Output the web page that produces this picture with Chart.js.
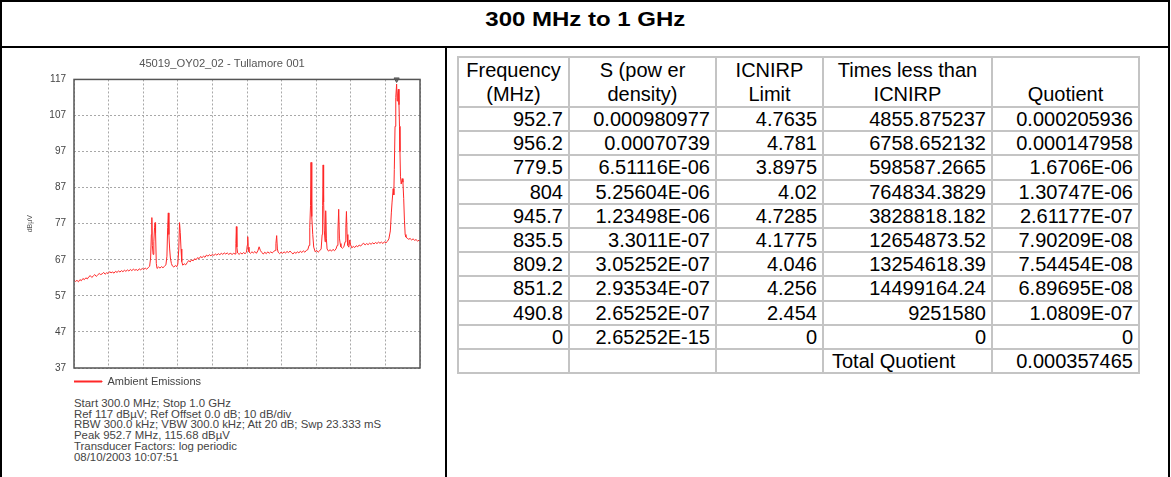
<!DOCTYPE html>
<html>
<head>
<meta charset="utf-8">
<script src="https://cdn.jsdelivr.net/npm/chart.js@4.4.1/dist/chart.umd.min.js"></script>
<style>
  body { margin: 0; width: 1171px; height: 477px; overflow: hidden; background: #fff; font-family: 'Liberation Sans', Arial, sans-serif; }
  .frame { position: absolute; left: 0; top: 0; width: 1166px; height: 490px; border: 2px solid #000; }
  .hline { position: absolute; left: 0; top: 46px; width: 1170px; height: 2px; background: #000; }
  .vline { position: absolute; left: 445px; top: 46px; width: 2px; height: 440px; background: #000; }
  .title { position: absolute; left: 0; top: 2px; width: 1170px; height: 34px; line-height: 34px; text-align: center; font-weight: bold; font-size: 20px; }
  .title span { display: inline-block; transform: scaleX(1.2); }
  #chartBox { position: absolute; left: 2px; top: 50px; width: 444px; height: 347px; }
  .info { position: absolute; left: 74px; top: 398px; font-size: 11.4px; line-height: 10.7px; color: #444; white-space: nowrap; }
  table { position: absolute; left: 457px; top: 56px; border-collapse: collapse; font-size: 20px; table-layout: fixed; }
  td { border: 2px solid #c4c4c4; height: 22.2px; line-height: 22px; padding: 0 5px 0 4px; text-align: right; white-space: nowrap; overflow: hidden; }
  td.h { text-align: center; line-height: 24px; vertical-align: bottom; padding: 0; }
  td.l { text-align: left; padding-left: 8px; }
</style>
</head>
<body>
<div class="frame"></div>
<div class="hline"></div>
<div class="vline"></div>
<div class="title"><span>300 MHz to 1 GHz</span></div>

<div id="chartBox"><canvas id="spectrum"></canvas></div>

<div class="info">
Start 300.0 MHz; Stop 1.0 GHz<br>
Ref 117 dBµV; Ref Offset 0.0 dB; 10 dB/div<br>
RBW 300.0 kHz; VBW 300.0 kHz; Att 20 dB; Swp 23.333 mS<br>
Peak 952.7 MHz, 115.68 dBµV<br>
Transducer Factors: log periodic<br>
08/10/2003 10:07:51
</div>

<table id="results">
  <colgroup>
    <col style="width:111px"><col style="width:147px"><col style="width:107px"><col style="width:169px"><col style="width:147px">
  </colgroup>
</table>

<script>
// spectrum trace (MHz / dBµV)
var freqMHz = [
  300, 303, 306, 309, 312, 315, 318, 321, 324, 327, 330, 333, 336, 339, 342, 345, 348, 351, 354, 357,
  360, 363, 366, 369, 372, 375, 378, 381, 384, 387, 390, 393, 396, 399, 402, 405, 408, 411, 414, 417,
  420, 423, 426, 429, 432, 435, 438, 441, 444, 447, 450, 453, 455, 456.5, 457.5, 458.5, 460, 461.5, 463, 464,
  465, 466.5, 468, 471, 474, 477, 480, 483, 486, 488, 489.5, 490.8, 492, 493.5, 495, 497, 499, 502, 505, 508,
  510, 512, 513.5, 515, 516.5, 518, 520, 523, 526, 529, 532, 535, 538, 541, 544, 547, 550, 553, 556, 559,
  562, 565, 568, 571, 574, 577, 580, 583, 586, 589, 592, 595, 598, 601, 604, 607, 610, 613, 616, 620,
  623, 626, 627.5, 628.5, 629.5, 631, 634, 637, 640, 643, 646, 649, 650.5, 651.5, 652.5, 654, 657, 660, 663, 666,
  669, 672, 674.5, 677, 680, 683, 686, 689, 692, 695, 698, 701, 704, 707, 708.5, 710, 711.5, 713, 716, 719,
  722, 725, 728, 731, 734, 737, 740, 743, 746, 749, 752, 755, 758, 761, 764, 767, 770, 773, 775.5, 777,
  778.5, 779.5, 780.5, 781.5, 783, 785, 788, 791, 794, 797, 800, 802, 803, 804, 805, 806.5, 808, 809.2, 810.5, 812,
  815, 818, 821, 824, 827, 830, 832.5, 834, 835.5, 837, 838.5, 840, 843, 846, 848.5, 850, 851.2, 852.5, 854, 856,
  858, 859.5, 862, 865, 868, 871, 874, 877, 880, 883, 886, 889, 892, 895, 898, 901, 904, 907, 910, 913,
  916, 919, 922, 925, 928, 931, 934, 937, 940, 942, 943.5, 945.7, 947, 948, 949.5, 951, 952.7, 953.8, 955, 956.2,
  957.5, 958.5, 959.5, 960.5, 962, 964, 965.5, 967, 968.5, 970, 971.5, 974, 977, 980, 983, 986, 989, 992, 995, 998,
  1000
];
var levelDbuv = [
  61.4, 61.0, 61.3, 60.9, 61.5, 61.2, 61.8, 61.5, 62.0, 61.7, 62.3, 62.6, 62.1, 62.5, 62.9, 62.4, 62.8, 63.2, 62.9, 63.1,
  63.5, 63.0, 63.4, 63.2, 63.7, 63.4, 63.6, 63.3, 63.8, 63.5, 63.9, 63.6, 64.0, 63.7, 64.1, 63.8, 64.2, 63.9, 64.3, 64.0,
  64.4, 64.1, 64.3, 64.0, 64.5, 64.2, 64.6, 64.3, 64.7, 64.4, 64.8, 65.2, 67.5, 74.0, 78.7, 71.0, 68.5, 72.0, 76.0, 77.3,
  74.5, 66.0, 64.6, 65.0, 64.7, 65.1, 64.8, 65.2, 65.6, 68.0, 76.0, 80.0, 74.0, 70.0, 67.5, 66.0, 65.3, 65.0, 65.4, 65.1,
  65.8, 70.0, 77.3, 74.5, 70.0, 66.5, 65.5, 65.9, 65.6, 66.2, 66.8, 66.4, 67.0, 66.7, 67.3, 67.0, 67.6, 67.3, 67.9, 67.6,
  68.0, 67.7, 68.3, 68.0, 68.4, 68.1, 68.5, 68.2, 68.6, 68.3, 68.7, 68.4, 68.8, 68.5, 68.9, 68.6, 68.9, 68.5, 68.8, 68.5,
  68.8, 68.6, 71.5, 76.2, 70.5, 68.9, 68.5, 68.9, 68.6, 69.0, 68.7, 69.1, 71.0, 73.4, 70.5, 69.2, 68.8, 69.2, 68.9, 69.3,
  68.8, 69.5, 70.6, 69.6, 69.0, 68.6, 69.1, 68.7, 69.2, 68.8, 69.2, 68.9, 69.3, 69.6, 71.5, 73.7, 70.0, 69.1, 68.7, 69.1,
  68.8, 69.2, 68.9, 69.3, 69.0, 69.4, 69.0, 68.6, 69.1, 68.8, 69.2, 68.9, 69.4, 69.0, 69.5, 69.1, 69.6, 69.8, 71.0, 76.0,
  82.0, 94.0, 84.0, 79.0, 74.0, 70.5, 69.2, 69.6, 69.1, 69.5, 70.0, 74.0, 82.0, 93.3, 83.0, 75.0, 72.0, 80.6, 73.0, 70.0,
  69.4, 69.8, 69.4, 69.9, 69.5, 70.0, 71.0, 75.0, 81.0, 73.0, 71.5, 70.6, 70.2, 70.6, 72.0, 76.0, 80.4, 74.0, 71.0, 70.5,
  72.5, 71.2, 70.3, 70.7, 70.4, 70.9, 70.6, 71.1, 70.8, 71.3, 71.6, 71.1, 71.5, 71.2, 71.6, 71.3, 71.7, 71.4, 71.8, 71.5,
  71.9, 71.6, 71.9, 71.5, 72.0, 71.7, 72.1, 72.8, 75.0, 80.0, 83.0, 86.7, 85.0, 92.0, 104.0, 112.0, 115.7, 111.0, 113.0, 114.3,
  110.0, 104.0, 97.0, 90.0, 88.0, 89.5, 88.5, 84.0, 78.0, 74.0, 73.3, 73.0, 72.7, 72.9, 72.5, 72.8, 72.4, 72.6, 72.2, 72.4,
  72.1
];
var yTicks = [37, 47, 57, 67, 77, 87, 97, 107, 117];
var peakMarker = [{ x: 952.7, y: 117 }];

// table from the right hand side
var tableHead = ['Frequency<br>(MHz)', 'S (pow er<br>density)', 'ICNIRP<br>Limit', 'Times less than<br>ICNIRP', 'Quotient'];
var freqCol     = ['952.7', '956.2', '779.5', '804', '945.7', '835.5', '809.2', '851.2', '490.8', '0'];
var densityCol  = ['0.000980977', '0.00070739', '6.51116E-06', '5.25604E-06', '1.23498E-06', '3.3011E-07', '3.05252E-07', '2.93534E-07', '2.65252E-07', '2.65252E-15'];
var limitCol    = ['4.7635', '4.781', '3.8975', '4.02', '4.7285', '4.1775', '4.046', '4.256', '2.454', '0'];
var timesCol    = ['4855.875237', '6758.652132', '598587.2665', '764834.3829', '3828818.182', '12654873.52', '13254618.39', '14499164.24', '9251580', '0'];
var quotientCol = ['0.000205936', '0.000147958', '1.6706E-06', '1.30747E-06', '2.61177E-07', '7.90209E-08', '7.54454E-08', '6.89695E-08', '1.0809E-07', '0'];
var totalQuotient = '0.000357465';

var html = '<tr>';
tableHead.forEach(function(h) { html += '<td class="h">' + h + '</td>'; });
html += '</tr>';
for (var i = 0; i < freqCol.length; i++) {
    html += '<tr><td>' + freqCol[i] + '</td><td>' + densityCol[i] + '</td><td>' + limitCol[i] +
            '</td><td>' + timesCol[i] + '</td><td>' + quotientCol[i] + '</td></tr>';
}
html += '<tr><td></td><td></td><td></td><td class="l">Total Quotient</td><td>' + totalQuotient + '</td></tr>';
document.getElementById('results').insertAdjacentHTML('beforeend', html);

// box round the plot area
var plotFrame = {
    id: 'plotFrame',
    afterDraw: function(chart) {
        var a = chart.chartArea;
        var c = chart.ctx;
        c.save();
        c.strokeStyle = '#555';
        c.lineWidth = 1.5;
        c.strokeRect(a.left, a.top, a.right - a.left, a.bottom - a.top);
        c.restore();
    }
};

Chart.defaults.font.family = "'Liberation Sans', Arial, sans-serif";

var traceColor = 'rgb(255, 40, 40)';
var trace = freqMHz.map(function(f, i) { return { x: f, y: levelDbuv[i] }; });

var ctx = document.getElementById('spectrum').getContext('2d');
var chart = new Chart(ctx, {
    type: 'line',
    data: {
        datasets: [{
            label: 'Ambient Emissions',
            borderColor: traceColor,
            backgroundColor: traceColor,
            borderWidth: 1,
            pointRadius: 0,
            tension: 0,
            data: trace
        }, {
            label: 'peak',
            type: 'scatter',
            data: peakMarker,
            pointStyle: 'triangle',
            rotation: 180,
            pointRadius: 3,
            backgroundColor: '#777',
            borderColor: '#555',
            borderWidth: 1,
            clip: false
        }]
    },
    options: {
        responsive: true,
        maintainAspectRatio: false,
        animation: false,
        layout: { padding: { left: 22, right: 26, top: 0, bottom: 0 } },
        plugins: {
            title: {
                display: true,
                text: '45019_OY02_02 - Tullamore 001',
                color: '#555',
                font: { size: 11.2, weight: 'normal' },
                padding: { top: 7, bottom: 9 }
            },
            legend: {
                position: 'bottom',
                align: 'start',
                fullSize: false,
                labels: {
                    // thin flat box gives a short line in the trace colour
                    boxWidth: 28,
                    boxHeight: 1,
                    padding: 0,
                    color: '#444',
                    font: { size: 11 },
                    filter: function(item) { return item.datasetIndex === 0; }
                }
            },
            tooltip: { enabled: false }
        },
        scales: {
            x: {
                type: 'linear',
                min: 300,
                max: 1000,
                ticks: { display: false, stepSize: 70 },
                grid: { color: '#a8a8a8', drawTicks: false },
                border: { display: false, dash: [2, 2] },
                afterFit: function(scale) { scale.height = 8; }
            },
            y: {
                min: 37,
                max: 117,
                afterBuildTicks: function(scale) { scale.ticks = yTicks.map(function(v) { return { value: v }; }); },
                ticks: { color: '#444', font: { size: 10 }, padding: 8 },
                grid: { color: '#a8a8a8', drawTicks: false },
                border: { display: false, dash: [2, 2] },
                title: { display: true, text: 'dBµV', color: '#555', font: { size: 7 }, padding: { top: 2, bottom: 0 } },
                afterFit: function(scale) { scale.width = 50; }
            }
        }
    },
    plugins: [plotFrame]
});
</script>
</body>
</html>
